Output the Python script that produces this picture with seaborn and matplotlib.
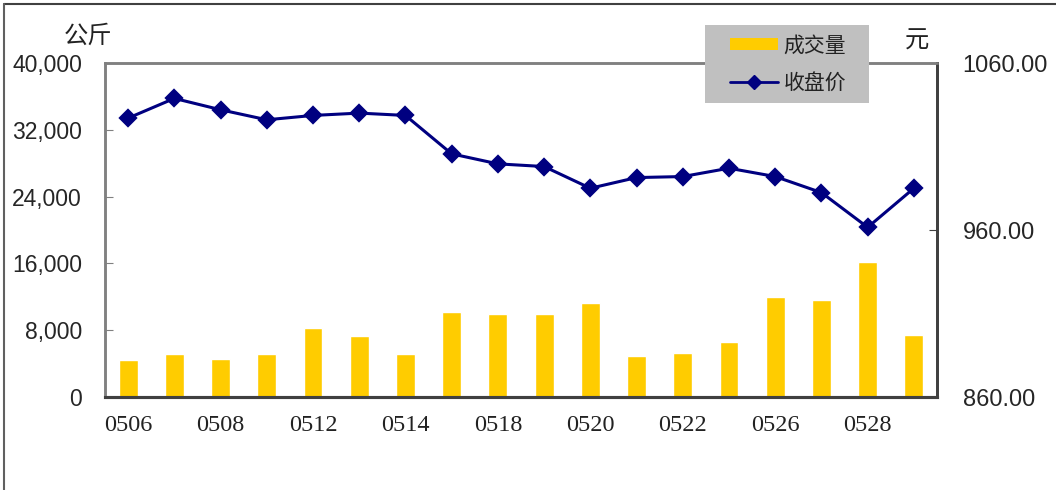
import numpy as np
import pandas as pd
import seaborn as sns
import matplotlib.pyplot as plt
from matplotlib.lines import Line2D
from matplotlib.patches import Patch, Rectangle

sns.set_style('white')
plt.rcParams['font.family'] = ['Liberation Sans', 'Noto Sans CJK SC', 'DejaVu Sans']

# 数据
dates = ['0506', '0507', '0508', '0509', '0512', '0513', '0514', '0515', '0518',
         '0519', '0520', '0521', '0522', '0525', '0526', '0527', '0528', '0529']
volume = [4400, 5120, 4520, 5200, 8270, 7280, 5200, 10120, 9920,
          9920, 11270, 4960, 5240, 6600, 11920, 11590, 16150, 7480]
close = [1027.0, 1038.8, 1032.0, 1026.0, 1028.6, 1030.0, 1028.6, 1005.6, 999.6,
         998.0, 985.0, 991.4, 992.0, 997.0, 992.0, 982.4, 961.6, 985.0]
vol_ticks = [0, 8000, 16000, 24000, 32000, 40000]
price_ticks = [860, 960, 1060]

df = pd.DataFrame({'date': dates, 'volume': volume, 'close': close})

fig = plt.figure(figsize=(10.56, 4.9), dpi=100)
ax = fig.add_axes([105 / 1056, 1 - 397 / 490, 832 / 1056, 334 / 490])

# 成交量柱状图
sns.barplot(data=df, x='date', y='volume', order=dates, color='#FFCC00',
            width=0.41, saturation=1, ax=ax)
ax.set_xlim(-0.5, len(dates) - 0.5)
ax.set_ylim(0, 40000)
ax.set_yticks(vol_ticks)
ax.set_yticklabels([f'{v:,}' for v in vol_ticks], fontsize=16.5)
ax.set_xticks(range(0, len(dates), 2))
ax.set_xticklabels(dates[::2], fontsize=17.5, family='Liberation Serif', color='#222222')
ax.set_xlabel('')
ax.set_ylabel('')
ax.tick_params(axis='x', length=0, pad=13)
ax.tick_params(axis='y', direction='in', length=6, color='#808080', pad=16.5)

# 收盘价折线
ax2 = ax.twinx()
sns.pointplot(data=df, x='date', y='close', order=dates, color='#000080',
              markers='D', markersize=8, linewidth=2.2, ax=ax2)
ax2.set_ylim(860, 1060)
ax2.set_yticks(price_ticks)
ax2.set_yticklabels([f'{v:.2f}' for v in price_ticks], fontsize=17)
ax2.set_ylabel('')
ax2.set_xlim(-0.5, len(dates) - 0.5)
ax2.tick_params(axis='y', direction='in', length=6, color='#404040', pad=18.5)

for a in (ax, ax2):
    a.spines['left'].set_color('#808080')
    a.spines['top'].set_color('#808080')
    a.spines['left'].set_linewidth(1.8)
    a.spines['top'].set_linewidth(1.8)
    a.spines['right'].set_color('#404040')
    a.spines['bottom'].set_color('#404040')
    a.spines['right'].set_linewidth(2)
    a.spines['bottom'].set_linewidth(2.2)

# 单位
fig.text(88 / 1056, 1 - 36 / 490, '公斤', fontsize=17.5, ha='center', va='center',
         family=['Noto Sans CJK SC', 'DejaVu Sans'], color='#222222')
fig.text(917 / 1056, 1 - 41 / 490, '元', fontsize=17.5, ha='center', va='center',
         family=['Noto Sans CJK SC', 'DejaVu Sans'], color='#222222')

# 图例（灰色底框单独画）
fig.add_artist(Rectangle((705 / 1056, 1 - 103 / 490), 164 / 1056, 78 / 490,
                         transform=fig.transFigure, facecolor='#C0C0C0',
                         edgecolor='none', zorder=5))
handles = [Patch(facecolor='#FFCC00', edgecolor='none'),
           Line2D([0], [0], color='#000080', marker='D', markersize=7, linewidth=2)]
leg = fig.legend(handles, ['成交量', '收盘价'], loc='center',
                 bbox_to_anchor=(788 / 1056, 1 - 64 / 490),
                 prop={'family': 'Noto Sans CJK SC', 'size': 15},
                 frameon=False, handlelength=2.3, handleheight=0.45,
                 labelspacing=0.72, borderpad=0, handletextpad=0.25)
for t in leg.get_texts():
    t.set_color('#222222')
leg.set_zorder(6)

# 外框
fig.add_artist(Line2D([4 / 1056, 1.01], [1 - 4 / 490, 1 - 4 / 490],
                      transform=fig.transFigure, color='#404040', linewidth=1.5))
fig.add_artist(Line2D([4 / 1056, 4 / 1056], [1 - 4 / 490, -0.01],
                      transform=fig.transFigure, color='#606060', linewidth=1.5))

fig.savefig('out.png', dpi=100)
